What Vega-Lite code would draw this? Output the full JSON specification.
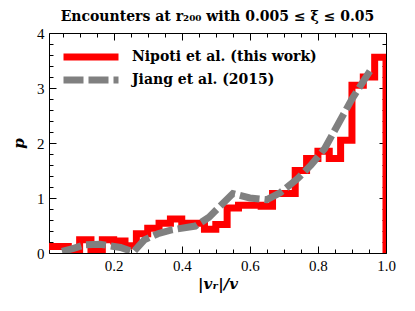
{
  "$schema": "https://vega.github.io/schema/vega-lite/v6.json",
  "width": 337,
  "height": 220,
  "autosize": "none",
  "padding": {"left": 49, "top": 33, "right": 29, "bottom": 58},
  "background": "white",
  "title": {"text": "Encounters at r₂₀₀ with 0.005 ≤ ξ ≤ 0.05", "font": "DejaVu Serif", "fontSize": 14, "fontWeight": "bold", "color": "black", "offset": 2, "anchor": "middle"},
  "config": {
    "view": {"stroke": "black", "strokeWidth": 1},
    "axis": {"domain": false, "tickColor": "black", "grid": false, "labelFlush": false, "labelFont": "Liberation Serif", "labelFontSize": 15, "labelColor": "black", "titleFont": "DejaVu Serif", "titleFontSize": 15, "titleFontWeight": "bold", "titleFontStyle": "italic", "titleColor": "black", "tickWidth": 1},
    "legend": {"orient": "none", "legendX": 33, "legendY": 15, "title": null, "symbolType": "M-5,0H5", "symbolSize": 121, "symbolStrokeWidth": 7, "labelFont": "DejaVu Serif", "labelFontSize": 14, "labelFontWeight": "bold", "labelColor": "black", "labelOffset": 32, "labelLimit": 400, "rowPadding": -6, "padding": 0}
  },
  "datasets": {
    "nipoti": [
      {"x": 0.0, "p": 0.0, "o": 0, "series": "Nipoti et al. (this work)"},
      {"x": 0.0, "p": 0.12, "o": 1, "series": "Nipoti et al. (this work)"},
      {"x": 0.0333, "p": 0.12, "o": 2, "series": "Nipoti et al. (this work)"},
      {"x": 0.0667, "p": 0.05, "o": 3, "series": "Nipoti et al. (this work)"},
      {"x": 0.1, "p": 0.24, "o": 4, "series": "Nipoti et al. (this work)"},
      {"x": 0.1333, "p": 0.05, "o": 5, "series": "Nipoti et al. (this work)"},
      {"x": 0.1667, "p": 0.24, "o": 6, "series": "Nipoti et al. (this work)"},
      {"x": 0.2, "p": 0.22, "o": 7, "series": "Nipoti et al. (this work)"},
      {"x": 0.2333, "p": 0.13, "o": 8, "series": "Nipoti et al. (this work)"},
      {"x": 0.2667, "p": 0.35, "o": 9, "series": "Nipoti et al. (this work)"},
      {"x": 0.3, "p": 0.45, "o": 10, "series": "Nipoti et al. (this work)"},
      {"x": 0.3333, "p": 0.54, "o": 11, "series": "Nipoti et al. (this work)"},
      {"x": 0.3667, "p": 0.62, "o": 12, "series": "Nipoti et al. (this work)"},
      {"x": 0.4, "p": 0.54, "o": 13, "series": "Nipoti et al. (this work)"},
      {"x": 0.4333, "p": 0.54, "o": 14, "series": "Nipoti et al. (this work)"},
      {"x": 0.4667, "p": 0.43, "o": 15, "series": "Nipoti et al. (this work)"},
      {"x": 0.5, "p": 0.52, "o": 16, "series": "Nipoti et al. (this work)"},
      {"x": 0.5333, "p": 0.82, "o": 17, "series": "Nipoti et al. (this work)"},
      {"x": 0.5667, "p": 0.87, "o": 18, "series": "Nipoti et al. (this work)"},
      {"x": 0.6, "p": 0.87, "o": 19, "series": "Nipoti et al. (this work)"},
      {"x": 0.6333, "p": 0.85, "o": 20, "series": "Nipoti et al. (this work)"},
      {"x": 0.6667, "p": 1.08, "o": 21, "series": "Nipoti et al. (this work)"},
      {"x": 0.7, "p": 1.08, "o": 22, "series": "Nipoti et al. (this work)"},
      {"x": 0.7333, "p": 1.5, "o": 23, "series": "Nipoti et al. (this work)"},
      {"x": 0.7667, "p": 1.72, "o": 24, "series": "Nipoti et al. (this work)"},
      {"x": 0.8, "p": 1.85, "o": 25, "series": "Nipoti et al. (this work)"},
      {"x": 0.8333, "p": 1.72, "o": 26, "series": "Nipoti et al. (this work)"},
      {"x": 0.8667, "p": 2.05, "o": 27, "series": "Nipoti et al. (this work)"},
      {"x": 0.9, "p": 3.05, "o": 28, "series": "Nipoti et al. (this work)"},
      {"x": 0.9333, "p": 3.2, "o": 29, "series": "Nipoti et al. (this work)"},
      {"x": 0.9667, "p": 3.56, "o": 30, "series": "Nipoti et al. (this work)"},
      {"x": 1.0, "p": 0.0, "o": 31, "series": "Nipoti et al. (this work)"}
    ],
    "jiang": [
      {"x": 0.048, "p": 0.03, "series": "Jiang et al. (2015)"},
      {"x": 0.08, "p": 0.08, "series": "Jiang et al. (2015)"},
      {"x": 0.115, "p": 0.15, "series": "Jiang et al. (2015)"},
      {"x": 0.16, "p": 0.16, "series": "Jiang et al. (2015)"},
      {"x": 0.22, "p": 0.1, "series": "Jiang et al. (2015)"},
      {"x": 0.258, "p": 0.02, "series": "Jiang et al. (2015)"},
      {"x": 0.29, "p": 0.24, "series": "Jiang et al. (2015)"},
      {"x": 0.33, "p": 0.35, "series": "Jiang et al. (2015)"},
      {"x": 0.37, "p": 0.42, "series": "Jiang et al. (2015)"},
      {"x": 0.44, "p": 0.49, "series": "Jiang et al. (2015)"},
      {"x": 0.48, "p": 0.65, "series": "Jiang et al. (2015)"},
      {"x": 0.55, "p": 1.08, "series": "Jiang et al. (2015)"},
      {"x": 0.6, "p": 1.0, "series": "Jiang et al. (2015)"},
      {"x": 0.65, "p": 0.97, "series": "Jiang et al. (2015)"},
      {"x": 0.69, "p": 1.1, "series": "Jiang et al. (2015)"},
      {"x": 0.74, "p": 1.35, "series": "Jiang et al. (2015)"},
      {"x": 0.78, "p": 1.6, "series": "Jiang et al. (2015)"},
      {"x": 0.82, "p": 1.9, "series": "Jiang et al. (2015)"},
      {"x": 0.86, "p": 2.35, "series": "Jiang et al. (2015)"},
      {"x": 0.9, "p": 2.8, "series": "Jiang et al. (2015)"},
      {"x": 0.955, "p": 3.33, "series": "Jiang et al. (2015)"}
    ]
  },
  "layer": [
    {
      "data": {"name": "nipoti"},
      "mark": {"type": "line", "interpolate": "step-after", "strokeWidth": 7, "clip": true, "strokeCap": "butt", "strokeJoin": "miter"},
      "encoding": {
        "x": {"field": "x", "type": "quantitative", "scale": {"domain": [0.01, 1], "nice": false, "zero": false},
              "axis": {"orient": "bottom", "values": [0.2, 0.4, 0.6, 0.8, 1.0], "format": ".1f", "ticks": false, "labelPadding": 5, "title": "|vᵣ|/v", "titlePadding": 3}},
        "y": {"field": "p", "type": "quantitative", "scale": {"domain": [0, 4], "nice": false},
              "axis": {"orient": "left", "values": [0, 1, 2, 3, 4], "format": "d", "ticks": false, "labelPadding": 5, "title": "p", "titlePadding": 10}},
        "color": {"field": "series", "type": "nominal", "scale": {"domain": ["Nipoti et al. (this work)", "Jiang et al. (2015)"], "range": ["#ff0000", "#808080"]}},
        "strokeDash": {"field": "series", "type": "nominal", "scale": {"domain": ["Nipoti et al. (this work)", "Jiang et al. (2015)"], "range": [[1, 0], [20, 5]]}},
        "order": {"field": "o", "type": "quantitative"}
      }
    },
    {
      "data": {"name": "jiang"},
      "mark": {"type": "line", "strokeWidth": 7, "clip": true, "strokeCap": "butt"},
      "encoding": {
        "x": {"field": "x", "type": "quantitative", "scale": {"domain": [0.01, 1], "nice": false, "zero": false},
              "axis": {"orient": "bottom", "values": [0.2, 0.4, 0.6, 0.8, 1.0], "tickSize": 7, "offset": -7, "labels": false, "title": null}},
        "y": {"field": "p", "type": "quantitative", "scale": {"domain": [0, 4], "nice": false},
              "axis": {"orient": "left", "values": [0, 1, 2, 3, 4], "tickSize": 7, "offset": -7, "labels": false, "title": null}},
        "color": {"field": "series", "type": "nominal", "scale": {"domain": ["Nipoti et al. (this work)", "Jiang et al. (2015)"], "range": ["#ff0000", "#808080"]}},
        "strokeDash": {"field": "series", "type": "nominal", "scale": {"domain": ["Nipoti et al. (this work)", "Jiang et al. (2015)"], "range": [[1, 0], [20, 5]]}}
      }
    },
    {
      "data": {"name": "jiang"},
      "mark": {"type": "line", "opacity": 0},
      "encoding": {
        "x": {"field": "x", "type": "quantitative", "scale": {"domain": [0.01, 1], "nice": false, "zero": false},
              "axis": {"orient": "bottom", "values": [0.05, 0.1, 0.15, 0.25, 0.3, 0.35, 0.45, 0.5, 0.55, 0.65, 0.7, 0.75, 0.85, 0.9, 0.95], "tickSize": 4, "offset": -4, "labels": false, "title": null}},
        "y": {"field": "p", "type": "quantitative", "scale": {"domain": [0, 4], "nice": false},
              "axis": {"orient": "left", "values": [0.2, 0.4, 0.6, 0.8, 1.2, 1.4, 1.6, 1.8, 2.2, 2.4, 2.6, 2.8, 3.2, 3.4, 3.6, 3.8], "tickSize": 4, "offset": -4, "labels": false, "title": null}}
      }
    },
    {
      "data": {"name": "jiang"},
      "mark": {"type": "line", "opacity": 0},
      "encoding": {
        "x": {"field": "x", "type": "quantitative", "scale": {"domain": [0.01, 1], "nice": false, "zero": false},
              "axis": {"orient": "top", "values": [0.2, 0.4, 0.6, 0.8, 1.0], "tickSize": 7, "offset": -7, "labels": false, "title": null}},
        "y": {"field": "p", "type": "quantitative", "scale": {"domain": [0, 4], "nice": false},
              "axis": {"orient": "right", "values": [0, 1, 2, 3, 4], "tickSize": 7, "offset": -7, "labels": false, "title": null}}
      }
    },
    {
      "data": {"name": "jiang"},
      "mark": {"type": "line", "opacity": 0},
      "encoding": {
        "x": {"field": "x", "type": "quantitative", "scale": {"domain": [0.01, 1], "nice": false, "zero": false},
              "axis": {"orient": "top", "values": [0.05, 0.1, 0.15, 0.25, 0.3, 0.35, 0.45, 0.5, 0.55, 0.65, 0.7, 0.75, 0.85, 0.9, 0.95], "tickSize": 4, "offset": -4, "labels": false, "title": null}},
        "y": {"field": "p", "type": "quantitative", "scale": {"domain": [0, 4], "nice": false},
              "axis": {"orient": "right", "values": [0.2, 0.4, 0.6, 0.8, 1.2, 1.4, 1.6, 1.8, 2.2, 2.4, 2.6, 2.8, 3.2, 3.4, 3.6, 3.8], "tickSize": 4, "offset": -4, "labels": false, "title": null}}
      }
    }
  ],
  "resolve": {"scale": {"x": "independent", "y": "independent"}, "axis": {"x": "independent", "y": "independent"}}
}
